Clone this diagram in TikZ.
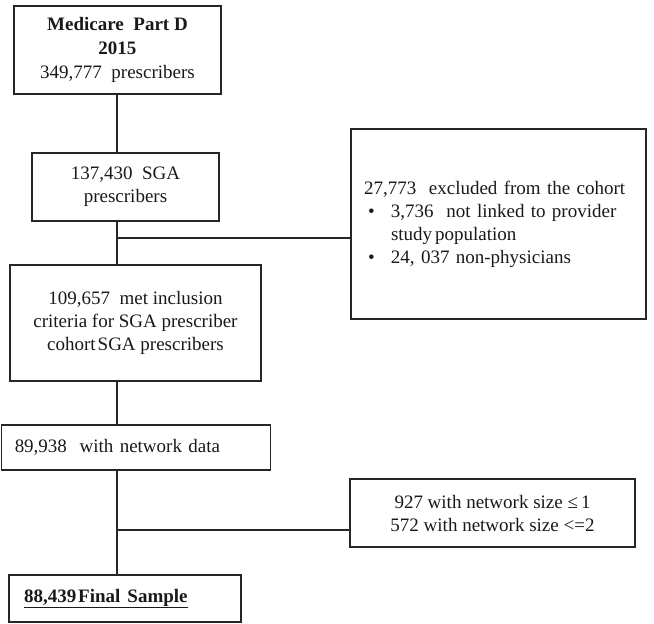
\documentclass[tikz,border=0pt]{standalone}
\usepackage{fontspec}
\setmainfont{Liberation Serif}
\usepackage{tikz}

\begin{document}
\begin{tikzpicture}[x=1pt,y=-1pt,
  box/.style={draw=black!85,line width=1.3pt,inner sep=0pt,align=center,
    text=black!90,font=\fontsize{19}{23}\selectfont},
  leftbox/.style={box,align=left,inner xsep=13pt},
  link/.style={draw=black!85,line width=1.3pt}]
\useasboundingbox (0,0) rectangle (654,624);
% main column
\node [box,minimum width=207,minimum height=88] (medicare) at (117.5,50)
  {\textbf{Medicare\ \ Part D}\\[1pt]\textbf{2015}\\[1pt]349,777\ \ prescribers};
\node [box,minimum width=187,minimum height=68] (sga) at (125.5,187)
  {137,430\ \ SGA\\prescribers};
\node [box,minimum width=251,minimum height=116] (inclusion) at (135.5,323)
  {109,657\ \ met inclusion\\criteria for SGA prescriber\\cohort\hspace{2pt}SGA prescribers};
\node [leftbox,text width=242,inner xsep=13.5pt,minimum height=45] (network) at (135.75,447.5)
  {89,938\ \ with network data};
\node [leftbox,text width=202,inner xsep=15pt,minimum height=47] (final) at (125,598.5)
  {\underline{\textbf{88,439\hspace{2pt}Final\hspace{7pt}Sample}}};
% exclusions
\node [leftbox,text width=269,minimum height=190] (excluded) at (498.5,224)
  {\begin{tabular}{@{}l@{}l@{}}
   \multicolumn{2}{@{}l@{}}{27,773\ \ excluded from the cohort}\\
   \makebox[27pt][l]{\hspace{4pt}\textbullet} & 3,736\ \ not linked to provider\\
   & study\hspace{3pt}population\\
   \makebox[27pt][l]{\hspace{4pt}\textbullet} & 24, 037 non-physicians
   \end{tabular}};
\node [box,minimum width=285,minimum height=68] (sizes) at (492.5,513)
  {927 with network size ≤\hspace{3pt}1\\572 with network size <=2};
% connectors
\coordinate (split1) at (117,238);
\coordinate (split2) at (117,530);
\draw [link] (medicare.south -| split1) -- (sga.north -| split1);
\draw [link] (sga.south -| split1) -- (inclusion.north -| split1);
\draw [link] (split1) -- (split1 -| excluded.west);
\draw [link] (inclusion.south -| split1) -- (network.north -| split1);
\draw [link] (network.south -| split2) -- (final.north -| split2);
\draw [link] (split2) -- (split2 -| sizes.west);
\end{tikzpicture}
\end{document}
